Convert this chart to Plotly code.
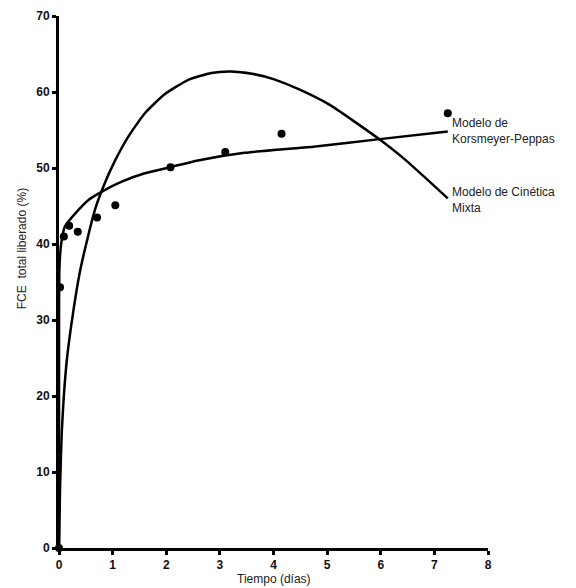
import plotly.graph_objects as go

# Experimental data
t_data = [0, 0.02, 0.09, 0.19, 0.35, 0.71, 1.05, 2.08, 3.1, 4.15, 7.25]
y_data = [0, 34.3, 41.0, 42.4, 41.6, 43.5, 45.1, 50.1, 52.1, 54.5, 57.2]

# Korsmeyer-Peppas model curve
t_kp = [0, 0.0005, 0.005, 0.02, 0.05, 0.11, 0.30, 0.55, 0.80, 1.17, 1.60, 2.07, 2.59, 3.46, 4.74, 5.98, 7.25]
y_kp = [0, 30.0, 36.0, 38.5, 40.5, 42.3, 44.0, 45.8, 46.9, 48.2, 49.3, 50.1, 51.0, 52.0, 52.8, 53.8, 54.8]

# Mixed kinetics model curve
t_mx = [0, 0.02, 0.05, 0.09, 0.15, 0.27, 0.38, 0.48, 0.67, 0.83, 1.04, 1.29, 1.60, 1.97, 2.41, 2.84,
        3.20, 3.60, 4.00, 4.49, 5.05, 5.47, 5.95, 6.47, 7.25]
y_mx = [0, 8.0, 15.0, 20.0, 25.0, 31.3, 36.0, 39.2, 44.5, 47.6, 50.9, 54.1, 57.2, 59.7, 61.6, 62.5,
        62.7, 62.4, 61.7, 60.3, 58.3, 56.3, 53.9, 51.0, 46.0]

x_ticks = [0, 1, 2, 3, 4, 5, 6, 7, 8]
y_ticks = [0, 10, 20, 30, 40, 50, 60, 70]
x_ticklabels = ["0", "1", "2", "3", "4", "5", "6", "7", "8"]
y_ticklabels = ["0", "10", "20", "30", "40", "50", "60", "70"]

fig = go.Figure()
fig.add_trace(go.Scatter(x=t_kp, y=y_kp, mode="lines",
                         line=dict(color="black", width=2.5, shape="spline", smoothing=0.5),
                         cliponaxis=False, showlegend=False))
fig.add_trace(go.Scatter(x=t_mx, y=y_mx, mode="lines",
                         line=dict(color="black", width=2.5, shape="spline", smoothing=0.5),
                         cliponaxis=False, showlegend=False))
fig.add_trace(go.Scatter(x=t_data, y=y_data, mode="markers", marker=dict(color="black", size=8),
                         cliponaxis=False, showlegend=False))

font_txt = dict(family="Liberation Sans, Arial, sans-serif", size=12, color="#222")
fig.add_annotation(x=7.3, y=54.9, xref="x", yref="y", text="Modelo de<br>Korsmeyer-Peppas",
                   showarrow=False, xanchor="left", yanchor="middle", align="left", font=font_txt)
fig.add_annotation(x=7.3, y=45.8, xref="x", yref="y", text="Modelo de Cinética<br>Mixta",
                   showarrow=False, xanchor="left", yanchor="middle", align="left", font=font_txt)
fig.add_annotation(x=4.0, y=-0.058, xref="x", yref="paper", text="Tiempo (días)",
                   showarrow=False, xanchor="center", yanchor="middle", font=font_txt)
fig.add_annotation(x=-0.087, y=39.4, xref="paper", yref="y", text="FCE  total liberado (%)", textangle=-90,
                   showarrow=False, xanchor="center", yanchor="middle", font=font_txt)

tickfont = dict(family="Liberation Sans, Arial, sans-serif", size=12, color="#111")
fig.update_xaxes(range=[0, 8], tickvals=x_ticks, ticktext=["<b>%s</b>" % s for s in x_ticklabels],
                 ticks="outside", ticklen=4, tickwidth=3, tickcolor="black",
                 showline=True, linecolor="black", linewidth=3, showgrid=False, zeroline=False,
                 tickfont=tickfont, automargin=False)
fig.update_yaxes(range=[0, 70], tickvals=y_ticks, ticktext=["<b>%s</b>" % s for s in y_ticklabels],
                 ticks="outside", ticklen=4, tickwidth=3, tickcolor="black",
                 showline=True, linecolor="black", linewidth=3, showgrid=False, zeroline=False,
                 tickfont=tickfont, automargin=False, ticklabelstandoff=0)
fig.update_layout(width=576, height=588, margin=dict(l=59, r=88, t=16, b=40),
                  plot_bgcolor="white", paper_bgcolor="white")
fig.write_html("out.html")
